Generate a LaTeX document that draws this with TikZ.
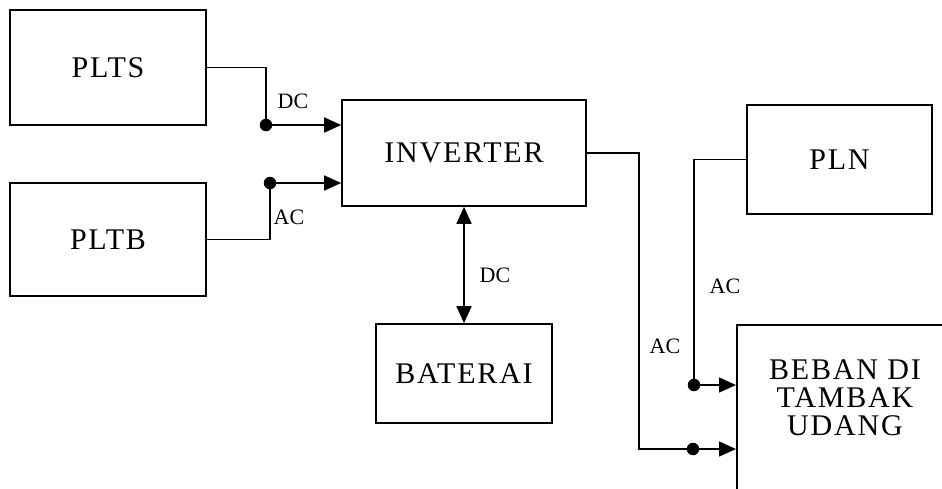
\documentclass[tikz,border=0pt]{standalone}
\usepackage{fontspec}
\setmainfont{Liberation Serif}
\usetikzlibrary{arrows.meta}
\begin{document}
\begin{tikzpicture}[x=1pt,y=-1pt,
  box/.style={draw,line width=1.6pt,rectangle,inner sep=0pt,
    font=\fontsize{30}{30}\selectfont\addfontfeatures{LetterSpace=6}},
  wire/.style={line width=1.5pt},
  arr/.style={line width=1.5pt,-{Triangle[length=17pt,width=15pt]}},
  darr/.style={line width=1.5pt,{Triangle[length=17pt,width=15pt]}-{Triangle[length=17pt,width=15pt]}},
  lbl/.style={font=\fontsize{22}{22}\selectfont,inner sep=0pt},
  dot/.style={circle,fill=black,inner sep=0pt,minimum size=12.5pt}]
\clip (0,0) rectangle (942,488);
\fill[white] (0,0) rectangle (942,488);
\node[box,minimum width=196pt,minimum height=115pt] (plts) at (108,67.5) {PLTS};
\node[box,minimum width=196pt,minimum height=113pt] (pltb) at (108,239.5) {PLTB};
\node[box,minimum width=244pt,minimum height=106pt] (inv) at (464,153) {INVERTER};
\node[box,minimum width=176pt,minimum height=99pt] (bat) at (464,373.5) {BATERAI};
\node[box,minimum width=185pt,minimum height=109pt] (pln) at (839.5,159.5) {PLN};
\node[box,minimum width=240pt,minimum height=200pt,anchor=north west] (beban) at (736,324) {};
\node[font=\fontsize{30}{28}\selectfont\addfontfeatures{LetterSpace=6},align=center,inner sep=0pt] (bebantxt) at (845,398) {BEBAN DI\\TAMBAK\\UDANG};
% PLTS
\node[dot] (d1) at (266,125) {};
\draw[wire] (plts.east) -| (d1.center);
\draw[arr] (d1.center) -- (d1.center -| inv.west);
% PLTB
\node[dot] (d2) at (270,183) {};
\draw[wire] (pltb.east) -| (d2.center);
\draw[arr] (d2.center) -- (d2.center -| inv.west);
% Inverter - Baterai
\draw[darr] (inv.south) -- (bat.north);
% Inverter - Beban
\coordinate (c1) at (639,449);
\node[dot] (d3) at (693,449) {};
\draw[wire] (inv.east) -| (c1) -- (d3.center);
\draw[arr] (d3.center) -- (d3.center -| beban.west);
% PLN - Beban
\node[dot] (d4) at (694,385) {};
\draw[wire] (pln.west) -| (d4.center);
\draw[arr] (d4.center) -- (d4.center -| beban.west);
% labels
\node[lbl] (l1) at (293,101) {DC};
\node[lbl] (l2) at (289,217) {AC};
\node[lbl] (l3) at (495,275) {DC};
\node[lbl] (l4) at (725,286) {AC};
\node[lbl] (l5) at (665,346) {AC};
\end{tikzpicture}
\end{document}
